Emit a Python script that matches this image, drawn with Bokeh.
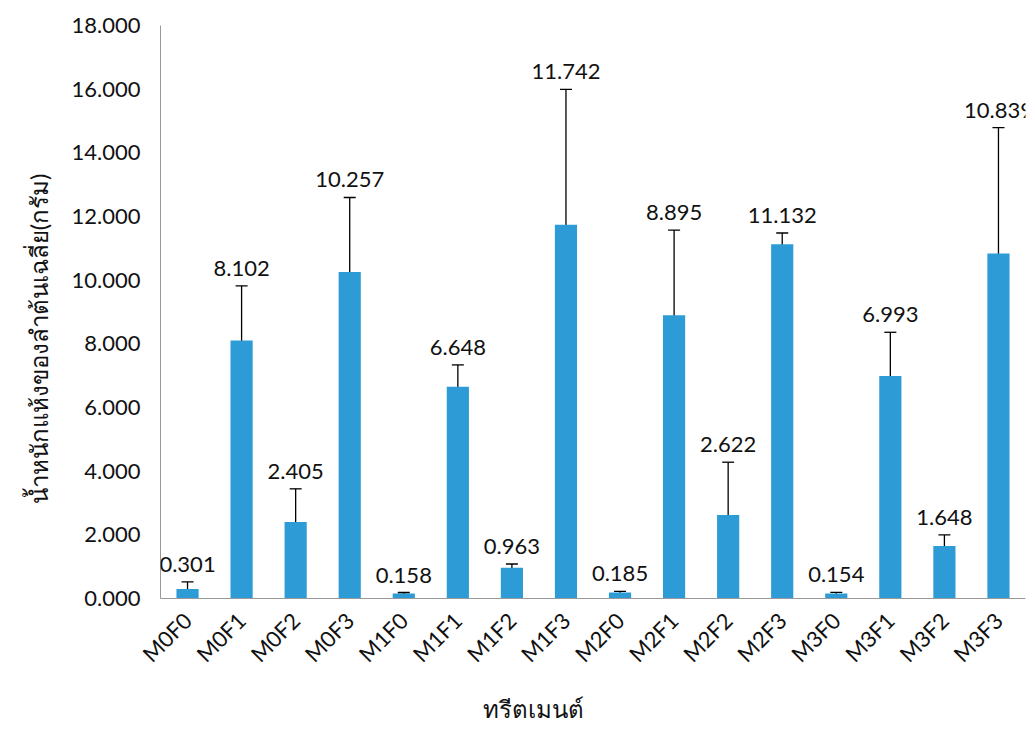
import math
from bokeh.plotting import figure
from bokeh.models import ColumnDataSource, Whisker, LabelSet, NumeralTickFormatter, FixedTicker, Title, TeeHead
from bokeh.embed import file_html
from bokeh.resources import INLINE
from bokeh.core.properties import value

treatments = ["M0F0", "M0F1", "M0F2", "M0F3", "M1F0", "M1F1", "M1F2", "M1F3",
              "M2F0", "M2F1", "M2F2", "M2F3", "M3F0", "M3F1", "M3F2", "M3F3"]
means = [0.301, 8.102, 2.405, 10.257, 0.158, 6.648, 0.963, 11.742,
         0.185, 8.895, 2.622, 11.132, 0.154, 6.993, 1.648, 10.839]
errors = [0.22, 1.72, 1.04, 2.34, 0.03, 0.69, 0.12, 4.25,
          0.04, 2.68, 1.66, 0.35, 0.04, 1.37, 0.35, 3.95]
y_ticks = [0, 2, 4, 6, 8, 10, 12, 14, 16, 18]
y_title = "น้ำหนักแห้งของลำต้นเฉลี่ย(กรัม)"
x_title = "ทรีตเมนต์"

FONT = "Lato, 'Noto Sans', sans-serif"

src = ColumnDataSource(dict(
    x=treatments,
    top=means,
    upper=[m + e for m, e in zip(means, errors)],
    lower=[m - e for m, e in zip(means, errors)],
    label=["%.3f" % m for m in means],
))

p = figure(x_range=treatments, y_range=(0, 18), width=1035, height=734,
           output_backend="svg", toolbar_location=None,
           min_border_left=160, min_border_right=10, min_border_top=25, min_border_bottom=134)

p.vbar(x="x", top="top", width=0.41, source=src, color="#2d9bd6", line_color=None)

w = Whisker(base="x", upper="upper", lower="lower", source=src,
            line_color="black", line_width=1.3,
            upper_head=TeeHead(size=12, line_color="black", line_width=1.3),
            lower_head=TeeHead(size=12, line_color="black", line_width=1.3))
p.add_layout(w)

labels = LabelSet(x="x", y="upper", text="label", source=src, y_offset=10,
                  text_align="center", text_baseline="alphabetic",
                  text_font=value(FONT), text_font_size="22px", text_color="#111111")
p.add_layout(labels)

p.xgrid.grid_line_color = None
p.ygrid.grid_line_color = None
p.outline_line_color = None

p.yaxis.ticker = FixedTicker(ticks=y_ticks)
p.yaxis.formatter = NumeralTickFormatter(format="0.000")
p.yaxis.major_label_text_font = FONT
p.yaxis.major_label_text_font_size = "22px"
p.yaxis.major_label_text_color = "#111111"
p.yaxis.major_tick_line_color = None
p.yaxis.minor_tick_line_color = None
p.yaxis.axis_line_color = "#999999"
p.yaxis.major_label_standoff = 14

p.xaxis.major_label_orientation = math.pi / 4
p.xaxis.major_label_text_font = FONT
p.xaxis.major_label_text_font_size = "22px"
p.xaxis.major_label_text_color = "#111111"
p.xaxis.major_tick_line_color = None
p.xaxis.axis_line_color = "#999999"
p.xaxis.major_label_standoff = 12
p.x_range.range_padding = 0

p.add_layout(Title(text=x_title, align="left", offset=322, vertical_align="bottom",
                   standoff=24, text_font=FONT, text_font_size="24px",
                   text_font_style="normal", text_color="#111111"), "below")
p.add_layout(Title(text=y_title, align="right", offset=148, vertical_align="middle",
                   standoff=30, text_font=FONT, text_font_size="24px",
                   text_font_style="normal", text_color="#111111"), "left")

open("out.html", "w").write(file_html(p, INLINE))
